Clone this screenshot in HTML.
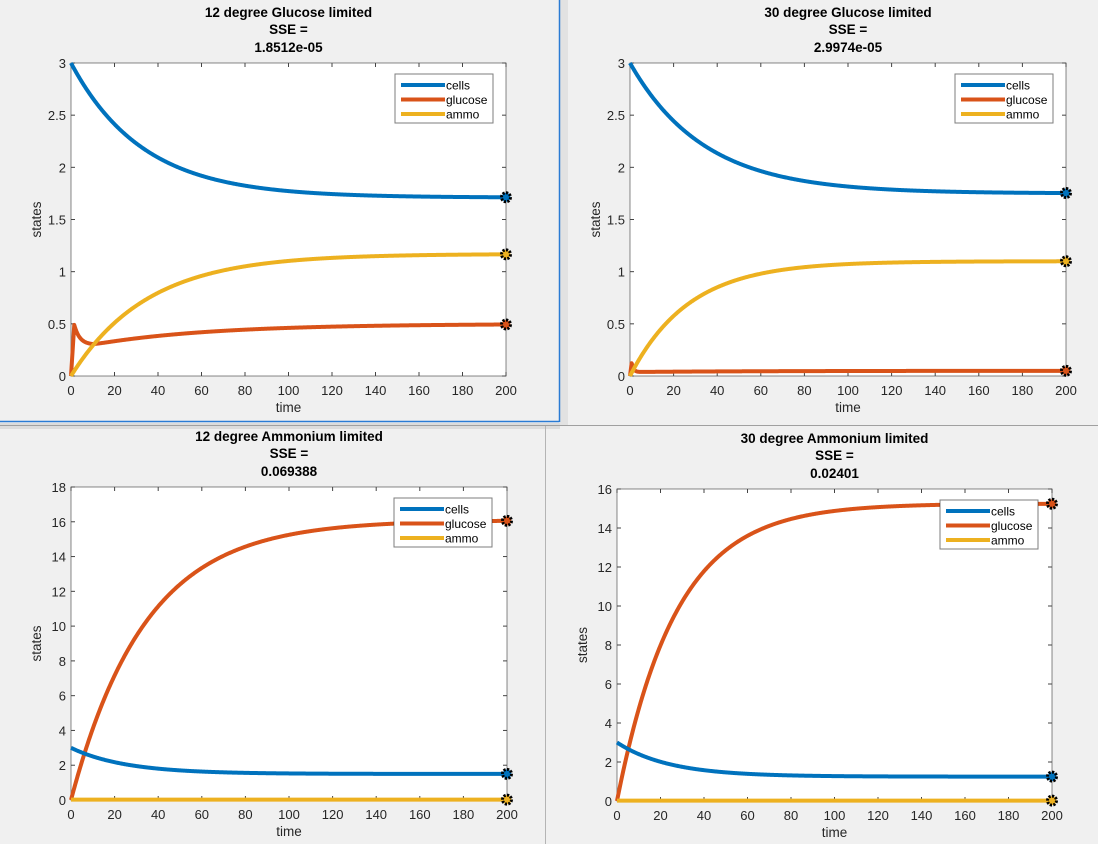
<!DOCTYPE html>
<html><head><meta charset="utf-8"><style>
html,body{margin:0;padding:0;background:#f0f0f0;}
svg{display:block;font-family:"Liberation Sans",sans-serif;}
</style></head><body>
<svg id="s" width="1098" height="844" xmlns="http://www.w3.org/2000/svg">
<rect width="1098" height="844" fill="#f0f0f0"/>
<rect x="560" y="0" width="8" height="425" fill="#e2e2e2"/>
<rect x="0" y="423" width="560" height="6" fill="#dcdcdc"/>
<line x1="0" y1="425.5" x2="1098" y2="425.5" stroke="#a0a0a0"/>
<line x1="545.5" y1="426" x2="545.5" y2="844" stroke="#b4b4b4"/>
<line x1="0" y1="421.5" x2="559.5" y2="421.5" stroke="#2a7bd4" stroke-width="1.5"/>
<line x1="559.5" y1="0" x2="559.5" y2="422" stroke="#2a7bd4" stroke-width="1.5"/>
<g id="g"></g>
</svg>
<script>
const NS="http://www.w3.org/2000/svg";
const g=document.getElementById('g');
function el(t,a,txt){const e=document.createElementNS(NS,t);for(const k in a)e.setAttribute(k,a[k]);if(txt!==undefined)e.textContent=txt;g.appendChild(e);return e;}
const E=Math.exp;
function panel(p){
 const {x0,x1,y0,y1,ymax,ystep,title,sse,curves,leg,fmt}=p;
 const sx=t=>x0+(x1-x0)*t/200, sy=v=>y0-(y0-y1)*v/ymax;
 el('rect',{x:x0,y:y1,width:x1-x0,height:y0-y1,fill:'#fff',stroke:'#262626','stroke-opacity':0.55,'stroke-width':1});
 const cx=(x0+x1)/2;
 el('text',{x:cx,y:y1-46,'text-anchor':'middle','font-size':13.5,'font-weight':'bold',fill:'#000'},title);
 el('text',{x:cx,y:y1-29,'text-anchor':'middle','font-size':13.5,'font-weight':'bold',fill:'#000'},'SSE =');
 el('text',{x:cx,y:y1-11,'text-anchor':'middle','font-size':13.5,'font-weight':'bold',fill:'#000'},sse);
 for(let t=0;t<=200;t+=20){const X=sx(t);
  el('line',{x1:X,y1:y0,x2:X,y2:y0-4,stroke:'#444'});el('line',{x1:X,y1:y1,x2:X,y2:y1+4,stroke:'#444'});
  el('text',{x:X,y:y0+19,'text-anchor':'middle','font-size':13,fill:'#262626'},t);}
 for(let v=0;v<=ymax+1e-9;v+=ystep){const Y=sy(v);
  el('line',{x1:x0,y1:Y,x2:x0+4,y2:Y,stroke:'#444'});el('line',{x1:x1,y1:Y,x2:x1-4,y2:Y,stroke:'#444'});
  el('text',{x:x0-5,y:Y+5,'text-anchor':'end','font-size':13,fill:'#262626'},fmt(v));}
 el('text',{x:cx,y:y0+36,'text-anchor':'middle','font-size':13.5,fill:'#262626'},'time');
 const ly=(y0+y1)/2;
 el('text',{x:x0-30,y:ly,'text-anchor':'middle','font-size':13.5,fill:'#262626',transform:`rotate(-90 ${x0-30} ${ly})`},'states');
 const cols=['#0072bd','#d95319','#edb120'];
 [1,0,2].forEach(i=>{const f=curves[i];let d='';
  for(let t=0;t<=200;t+=0.25){d+=(t?'L':'M')+sx(t).toFixed(2)+' '+sy(f(t)).toFixed(2);}
  el('path',{d,fill:'none',stroke:cols[i],'stroke-width':4,'stroke-linejoin':'round'});});
 curves.forEach((f,i)=>{const X=sx(200),Y=sy(f(200));
  el('circle',{cx:X,cy:Y,r:4.5,fill:cols[i],stroke:'#000','stroke-width':3,'stroke-dasharray':'2.2 1.3'});
  el('circle',{cx:X,cy:Y,r:1.8,fill:cols[i]});});
 const [lx,lyy]=leg;
 el('rect',{x:lx,y:lyy,width:98,height:49,fill:'#fff',stroke:'#262626','stroke-opacity':0.6});
 ['cells','glucose','ammo'].forEach((n,i)=>{const Y=lyy+11+i*14.5;
  el('line',{x1:lx+6,y1:Y,x2:lx+50,y2:Y,stroke:cols[i],'stroke-width':4});
  el('text',{x:lx+51,y:Y+4.5,'font-size':12,fill:'#000'},n);});
}
const f05=v=>(Math.round(v*10)/10).toString();
panel({x0:71,x1:506,y0:376,y1:63,ymax:3,ystep:0.5,fmt:f05,title:'12 degree Glucose limited',sse:'1.8512e-05',leg:[395,74],
 curves:[t=>1.71+1.29*E(-t/33),
  t=>{ if(t<1.5) return 0.49*t/1.5; const base=0.5-0.2*E(-Math.max(t-10,0)/55); const bump=0.19*E(-(t-1.5)/2.5); return (t<10?0.3:base)+bump;},
  t=>1.17*(1-E(-t/35))]});
panel({x0:630,x1:1066,y0:376,y1:63,ymax:3,ystep:0.5,fmt:f05,title:'30 degree Glucose limited',sse:'2.9974e-05',leg:[955,74],
 curves:[t=>1.75+1.25*E(-t/34),
  t=>{ if(t<0.8) return 0.13*t/0.8; return 0.05-0.012*E(-t/60)+0.09*E(-(t-0.8)/0.8);},
  t=>1.1*(1-E(-t/27))]});
const fi=v=>Math.round(v).toString();
panel({x0:71,x1:507,y0:800,y1:487,ymax:18,ystep:2,fmt:fi,title:'12 degree Ammonium limited',sse:'0.069388',leg:[394,498],
 curves:[t=>1.5+1.5*E(-t/25),t=>16.1*(1-E(-t/34)),t=>0.02]});
panel({x0:617,x1:1052,y0:801,y1:489,ymax:16,ystep:2,fmt:fi,title:'30 degree Ammonium limited',sse:'0.02401',leg:[940,500],
 curves:[t=>1.25+1.75*E(-t/24),t=>15.25*(1-E(-t/27)),t=>0.02]});
</script>
</body></html>
